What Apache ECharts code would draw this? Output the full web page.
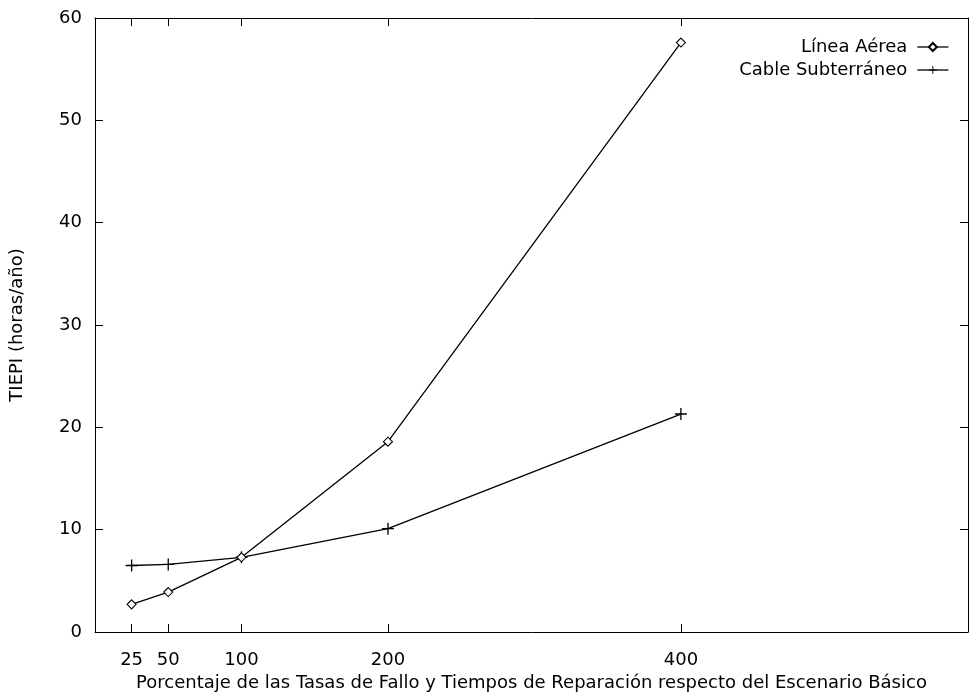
<!DOCTYPE html>
<html><head><meta charset="utf-8">
<script src="https://cdn.jsdelivr.net/npm/echarts@6/dist/echarts.min.js"></script>
<style>html,body{margin:0;padding:0;background:#fff}#c{width:970px;height:695px}</style>
</head><body><div id="c"></div>
<script>
const xValues = [25, 50, 100, 200, 400];
const lineaAerea = [2.7, 3.9, 7.3, 18.6, 57.6];
const cableSubterraneo = [6.5, 6.6, 7.3, 10.1, 21.3];
const xTicks = [25, 50, 100, 200, 400];
const yTicks = [0, 10, 20, 30, 40, 50, 60];
const seriesNames = ['Línea Aérea', 'Cable Subterráneo'];

const FONT = 'DejaVu Sans';
const FS = 18;
const chart = echarts.init(document.getElementById('c'), null, {renderer: 'canvas'});
const axisLineCfg = {show: true, onZero: false, lineStyle: {color: '#000', width: 1}};
const tickIn = {show: true, inside: true, length: 8, lineStyle: {color: '#000', width: 1}};
const crossPath = 'path://M0,4.45h10v1.1h-10zM4.45,0h1.1v10h-1.1z';

chart.setOption({
  animation: false,
  backgroundColor: '#fff',
  textStyle: {fontFamily: FONT},
  grid: {left: 95, top: 18, right: 2, bottom: 63, containLabel: false, outerBoundsMode: 'none'},
  legend: {
    orient: 'vertical', right: 16, top: 33, align: 'right', itemGap: 5,
    itemWidth: 31, itemHeight: 10,
    lineStyle: {width: 1.3, color: '#000'},
    textStyle: {fontFamily: FONT, fontSize: FS, color: '#000', padding: [0, 5, 0, 0]},
    data: seriesNames
  },
  xAxis: [{
    type: 'value', min: 0, max: 596, position: 'bottom',
    axisLine: axisLineCfg,
    axisTick: Object.assign({}, tickIn, {customValues: xTicks}),
    axisLabel: {customValues: xTicks, color: '#000', fontSize: FS, fontFamily: FONT, margin: 19},
    splitLine: {show: false},
    name: 'Porcentaje de las Tasas de Fallo y Tiempos de Reparación respecto del Escenario Básico',
    nameLocation: 'middle', nameGap: 41,
    nameTextStyle: {color: '#000', fontSize: FS, fontFamily: FONT}
  }, {
    type: 'value', min: 0, max: 596, position: 'top',
    axisLine: axisLineCfg,
    axisTick: Object.assign({}, tickIn, {customValues: xTicks}),
    axisLabel: {show: false}, splitLine: {show: false}
  }],
  yAxis: [{
    type: 'value', min: 0, max: 60, interval: 10, position: 'left',
    axisLine: axisLineCfg,
    axisTick: tickIn,
    axisLabel: {color: '#000', fontSize: FS, fontFamily: FONT, margin: 13},
    splitLine: {show: false},
    name: 'TIEPI (horas/año)', nameLocation: 'middle', nameGap: 69, nameRotate: 90,
    nameTextStyle: {color: '#000', fontSize: FS, fontFamily: FONT}
  }, {
    type: 'value', min: 0, max: 60, interval: 10, position: 'right',
    axisLine: axisLineCfg, axisTick: tickIn,
    axisLabel: {show: false}, splitLine: {show: false}
  }],
  series: [{
    name: seriesNames[0], type: 'line',
    data: xValues.map((x, i) => [x, lineaAerea[i]]),
    symbol: 'diamond', symbolSize: 9, showAllSymbol: true,
    lineStyle: {color: '#000', width: 1.3},
    itemStyle: {color: '#fff', borderColor: '#000', borderWidth: 1.1},
    z: 3
  }, {
    name: seriesNames[1], type: 'line',
    data: xValues.map((x, i) => [x, cableSubterraneo[i]]),
    symbol: crossPath, symbolSize: 12, showAllSymbol: true,
    lineStyle: {color: '#000', width: 1.3},
    itemStyle: {color: '#000', borderWidth: 0},
    z: 2
  }]
});
</script></body></html>
